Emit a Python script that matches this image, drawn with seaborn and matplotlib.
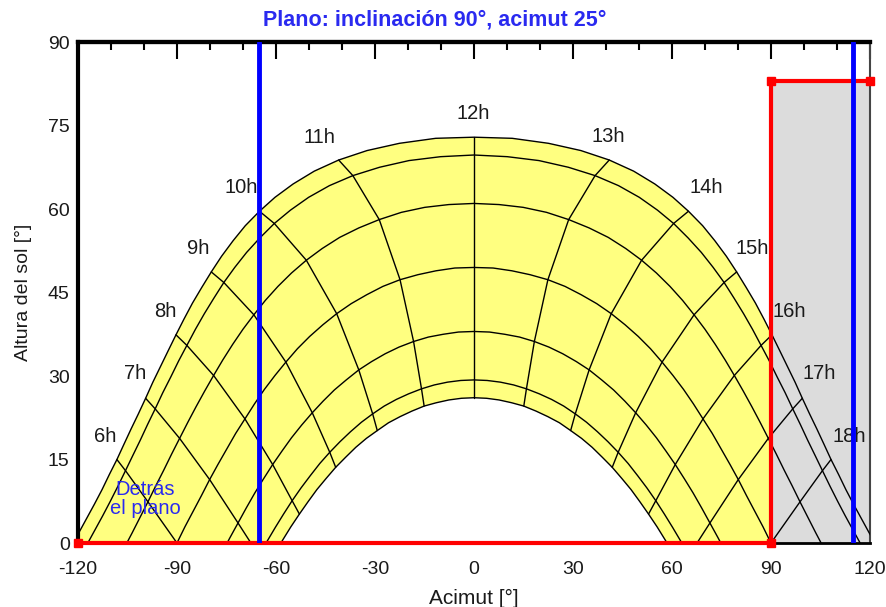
import numpy as np
import pandas as pd
import matplotlib
matplotlib.use('Agg')
import matplotlib.pyplot as plt
from matplotlib.ticker import MultipleLocator
import seaborn as sns

# --- sun path data, read every quarter hour of solar time ---
HOURS = [4.5, 4.75, 5.0, 5.25, 5.5, 5.75, 6.0, 6.25, 6.5, 6.75, 7.0, 7.25, 7.5, 7.75, 8.0, 8.25,
         8.5, 8.75, 9.0, 9.25, 9.5, 9.75, 10.0, 10.25, 10.5, 10.75, 11.0, 11.25, 11.5, 11.75, 12.0,
         12.25, 12.5, 12.75, 13.0, 13.25, 13.5, 13.75, 14.0, 14.25, 14.5, 14.75, 15.0, 15.25, 15.5,
         15.75, 16.0, 16.25, 16.5, 16.75, 17.0, 17.25, 17.5, 17.75, 18.0, 18.25, 18.5, 18.75, 19.0,
         19.25, 19.5]

DATES = ['22 jun', '22 may', '20 abr', '20 mar', '21 feb', '19 ene', '22 dic']

AZ_JUN = [-122.0, -119.6, -117.3, -115.0, -112.7, -110.5, -108.2, -106.1, -103.9, -101.7, -99.5, -97.3,
          -95.0, -92.7, -90.3, -87.9, -85.3, -82.5, -79.6, -76.5, -73.0, -69.3, -65.0, -60.3, -54.8,
          -48.4, -41.0, -32.4, -22.6, -11.6, 0.0, 11.6, 22.6, 32.4, 41.0, 48.4, 54.8, 60.3, 65.0, 69.3,
          73.0, 76.5, 79.6, 82.5, 85.3, 87.9, 90.3, 92.7, 95.0, 97.3, 99.5, 101.7, 103.9, 106.1, 108.2,
          110.5, 112.7, 115.0, 117.3, 119.6, 122.0]
ALT_JUN = [-0.5, 2.0, 4.5, 7.0, 9.6, 12.3, 15.0, 17.7, 20.5, 23.2, 26.0, 28.9, 31.7, 34.5, 37.4, 40.2,
           43.1, 45.9, 48.7, 51.5, 54.3, 57.0, 59.6, 62.1, 64.5, 66.8, 68.8, 70.5, 71.8, 72.7, 72.9,
           72.7, 71.8, 70.5, 68.8, 66.8, 64.5, 62.1, 59.6, 57.0, 54.3, 51.5, 48.7, 45.9, 43.1, 40.2,
           37.4, 34.5, 31.7, 28.9, 26.0, 23.2, 20.5, 17.7, 15.0, 12.3, 9.6, 7.0, 4.5, 2.0, -0.5]

AZ_MAY = [-119.8, -117.3, -114.9, -112.5, -110.2, -107.9, -105.6, -103.4, -101.1, -98.9, -96.6, -94.3,
          -91.9, -89.5, -87.0, -84.4, -81.7, -78.8, -75.8, -72.5, -68.9, -64.9, -60.5, -55.6, -50.1,
          -43.8, -36.7, -28.6, -19.7, -10.1, 0.0, 10.1, 19.7, 28.6, 36.7, 43.8, 50.1, 55.6, 60.5, 64.9,
          68.9, 72.5, 75.8, 78.8, 81.7, 84.4, 87.0, 89.5, 91.9, 94.3, 96.6, 98.9, 101.1, 103.4, 105.6,
          107.9, 110.2, 112.5, 114.9, 117.3, 119.8]
ALT_MAY = [-2.8, -0.3, 2.3, 4.9, 7.5, 10.2, 13.0, 15.7, 18.5, 21.3, 24.1, 27.0, 29.8, 32.7, 35.5, 38.4,
           41.2, 44.0, 46.8, 49.5, 52.2, 54.8, 57.4, 59.8, 62.1, 64.2, 66.0, 67.5, 68.7, 69.4, 69.7,
           69.4, 68.7, 67.5, 66.0, 64.2, 62.1, 59.8, 57.4, 54.8, 52.2, 49.5, 46.8, 44.0, 41.2, 38.4,
           35.5, 32.7, 29.8, 27.0, 24.1, 21.3, 18.5, 15.7, 13.0, 10.2, 7.5, 4.9, 2.3, -0.3, -2.8]

AZ_APR = [-113.6, -111.0, -108.5, -106.0, -103.6, -101.2, -98.8, -96.4, -94.0, -91.6, -89.2, -86.7,
          -84.2, -81.6, -78.9, -76.1, -73.1, -70.0, -66.7, -63.2, -59.4, -55.3, -50.8, -46.0, -40.7,
          -34.9, -28.7, -22.0, -14.9, -7.6, 0.0, 7.6, 14.9, 22.0, 28.7, 34.9, 40.7, 46.0, 50.8, 55.3,
          59.4, 63.2, 66.7, 70.0, 73.1, 76.1, 78.9, 81.6, 84.2, 86.7, 89.2, 91.6, 94.0, 96.4, 98.8,
          101.2, 103.6, 106.0, 108.5, 111.0, 113.6]
ALT_APR = [-9.0, -6.3, -3.6, -0.9, 1.8, 4.6, 7.4, 10.3, 13.1, 16.0, 18.8, 21.7, 24.5, 27.3, 30.1, 32.9,
           35.7, 38.4, 41.0, 43.6, 46.1, 48.5, 50.8, 52.9, 54.9, 56.6, 58.1, 59.4, 60.3, 60.8, 61.0,
           60.8, 60.3, 59.4, 58.1, 56.6, 54.9, 52.9, 50.8, 48.5, 46.1, 43.6, 41.0, 38.4, 35.7, 32.9,
           30.1, 27.3, 24.5, 21.7, 18.8, 16.0, 13.1, 10.3, 7.4, 4.6, 1.8, -0.9, -3.6, -6.3, -9.0]

AZ_MAR = [-105.1, -102.4, -99.9, -97.4, -94.9, -92.4, -90.0, -87.6, -85.1, -82.6, -80.1, -77.6,
          -74.9, -72.2, -69.4, -66.5, -63.5, -60.3, -57.0, -53.5, -49.8, -45.8, -41.6, -37.2, -32.5,
          -27.6, -22.4, -17.0, -11.5, -5.8, 0.0, 5.8, 11.5, 17.0, 22.4, 27.6, 32.5, 37.2, 41.6, 45.8,
          49.8, 53.5, 57.0, 60.3, 63.5, 66.5, 69.4, 72.2, 74.9, 77.6, 80.1, 82.6, 85.1, 87.6, 90.0,
          92.4, 94.9, 97.4, 99.9, 102.4, 105.1]
ALT_MAR = [-16.9, -14.1, -11.4, -8.5, -5.7, -2.9, 0.0, 2.9, 5.7, 8.5, 11.4, 14.1, 16.9, 19.7, 22.3, 25.0,
           27.6, 30.1, 32.5, 34.9, 37.1, 39.2, 41.2, 43.0, 44.6, 46.1, 47.3, 48.2, 48.9, 49.4, 49.5,
           49.4, 48.9, 48.2, 47.3, 46.1, 44.6, 43.0, 41.2, 39.2, 37.1, 34.9, 32.5, 30.1, 27.6, 25.0,
           22.3, 19.7, 16.9, 14.1, 11.4, 8.5, 5.7, 2.9, 0.0, -2.9, -5.7, -8.5, -11.4, -14.1, -16.9]

AZ_FEB = [-95.8, -93.3, -90.8, -88.4, -86.0, -83.6, -81.2, -78.8, -76.4, -74.0, -71.5, -69.0, -66.4,
          -63.8, -61.0, -58.2, -55.3, -52.2, -49.0, -45.7, -42.3, -38.7, -34.9, -31.0, -26.9, -22.7,
          -18.3, -13.8, -9.3, -4.7, 0.0, 4.7, 9.3, 13.8, 18.3, 22.7, 26.9, 31.0, 34.9, 38.7, 42.3, 45.7,
          49.0, 52.2, 55.3, 58.2, 61.0, 63.8, 66.4, 69.0, 71.5, 74.0, 76.4, 78.8, 81.2, 83.6, 86.0, 88.4,
          90.8, 93.3, 95.8]
ALT_FEB = [-24.5, -21.7, -18.8, -16.0, -13.1, -10.3, -7.4, -4.6, -1.8, 0.9, 3.6, 6.3, 9.0, 11.5, 14.1,
           16.5, 18.9, 21.2, 23.4, 25.5, 27.5, 29.3, 31.1, 32.6, 34.0, 35.2, 36.2, 37.0, 37.5, 37.9,
           38.0, 37.9, 37.5, 37.0, 36.2, 35.2, 34.0, 32.6, 31.1, 29.3, 27.5, 25.5, 23.4, 21.2, 18.9,
           16.5, 14.1, 11.5, 9.0, 6.3, 3.6, 0.9, -1.8, -4.6, -7.4, -10.3, -13.1, -16.0, -18.8, -21.7,
           -24.5]

AZ_JAN = [-88.1, -85.7, -83.4, -81.1, -78.9, -76.6, -74.4, -72.1, -69.8, -67.5, -65.1, -62.7, -60.2,
          -57.7, -55.1, -52.4, -49.6, -46.7, -43.7, -40.6, -37.4, -34.1, -30.7, -27.2, -23.5, -19.8,
          -15.9, -12.0, -8.0, -4.0, 0.0, 4.0, 8.0, 12.0, 15.9, 19.8, 23.5, 27.2, 30.7, 34.1, 37.4, 40.6,
          43.7, 46.7, 49.6, 52.4, 55.1, 57.7, 60.2, 62.7, 65.1, 67.5, 69.8, 72.1, 74.4, 76.6, 78.9, 81.1,
          83.4, 85.7, 88.1]
ALT_JAN = [-29.8, -27.0, -24.1, -21.3, -18.5, -15.7, -13.0, -10.2, -7.5, -4.9, -2.3, 0.3, 2.8, 5.2, 7.6,
           9.9, 12.1, 14.3, 16.3, 18.2, 20.0, 21.7, 23.2, 24.6, 25.8, 26.8, 27.7, 28.4, 28.9, 29.2,
           29.3, 29.2, 28.9, 28.4, 27.7, 26.8, 25.8, 24.6, 23.2, 21.7, 20.0, 18.2, 16.3, 14.3, 12.1,
           9.9, 7.6, 5.2, 2.8, 0.3, -2.3, -4.9, -7.5, -10.2, -13.0, -15.7, -18.5, -21.3, -24.1, -27.0,
           -29.8]

AZ_DEC = [-85.0, -82.7, -80.5, -78.3, -76.1, -73.9, -71.8, -69.5, -67.3, -65.0, -62.7, -60.4, -58.0,
          -55.5, -52.9, -50.3, -47.6, -44.8, -41.9, -38.9, -35.8, -32.6, -29.3, -25.9, -22.4, -18.8,
          -15.1, -11.4, -7.6, -3.8, 0.0, 3.8, 7.6, 11.4, 15.1, 18.8, 22.4, 25.9, 29.3, 32.6, 35.8, 38.9,
          41.9, 44.8, 47.6, 50.3, 52.9, 55.5, 58.0, 60.4, 62.7, 65.0, 67.3, 69.5, 71.8, 73.9, 76.1, 78.3,
          80.5, 82.7, 85.0]
ALT_DEC = [-31.7, -28.9, -26.0, -23.2, -20.5, -17.7, -15.0, -12.3, -9.6, -7.0, -4.5, -2.0, 0.5, 2.9,
           5.2, 7.4, 9.6, 11.6, 13.6, 15.4, 17.2, 18.8, 20.2, 21.6, 22.7, 23.7, 24.6, 25.2, 25.7, 26.0,
           26.1, 26.0, 25.7, 25.2, 24.6, 23.7, 22.7, 21.6, 20.2, 18.8, 17.2, 15.4, 13.6, 11.6, 9.6,
           7.4, 5.2, 2.9, 0.5, -2.0, -4.5, -7.0, -9.6, -12.3, -15.0, -17.7, -20.5, -23.2, -26.0, -28.9,
           -31.7]

# hour lines drawn and their labels
HOUR_MARKS = [6, 7, 8, 9, 10, 11, 12, 13, 14, 15, 16, 17, 18]
HOUR_LABELS = ['6h', '7h', '8h', '9h', '10h', '11h', '12h', '13h', '14h', '15h', '16h', '17h', '18h']
HOUR_LABEL_AZ = [-111.8, -102.7, -93.6, -83.5, -70.4, -46.7, -0.2, 40.8, 70.3, 84.4, 95.6, 104.6, 113.7]
HOUR_LABEL_ALT = [19.1, 30.5, 41.5, 52.9, 63.9, 72.9, 77.2, 73.0, 63.9, 52.9, 41.5, 30.5, 19.1]

# far horizon profile and plane edges
HORIZON_AZ = [-120, 90, 90, 120]
HORIZON_ALT = [0, 0, 83, 83]
PLANE_EDGE_AZ = [-65, 115]

AZ = [AZ_JUN, AZ_MAY, AZ_APR, AZ_MAR, AZ_FEB, AZ_JAN, AZ_DEC]
ALT = [ALT_JUN, ALT_MAY, ALT_APR, ALT_MAR, ALT_FEB, ALT_JAN, ALT_DEC]
for a, e in zip(AZ, ALT):
    assert len(a) == len(HOURS) and len(e) == len(HOURS)

rows = []
for name, az_list, alt_list in zip(DATES, AZ, ALT):
    for h, a, e in zip(HOURS, az_list, alt_list):
        rows.append({'date': name, 'hour': h, 'az': a, 'alt': e})
df = pd.DataFrame(rows)
df_hours = df[df['hour'].isin(HOUR_MARKS)]

sns.set_theme(style='white')
plt.rcParams['font.family'] = ['Liberation Sans', 'DejaVu Sans']
plt.rcParams['axes.unicode_minus'] = False

TXT = '#1a1a1a'
BLUE_TXT = '#2a2af0'

fig = plt.figure(figsize=(8.86, 6.07), dpi=100)
ax = fig.add_axes([0.088, 0.1054, 0.8939, 0.8254])

# yellow area between the summer and winter paths
poly_az = np.concatenate([AZ_JUN, AZ_DEC[::-1]])
poly_alt = np.concatenate([ALT_JUN, ALT_DEC[::-1]])
ax.fill(poly_az, poly_alt, color='#ffff80', lw=0, zorder=1)

# grey shading under the horizon profile
ax.fill_between(HORIZON_AZ, 0, HORIZON_ALT, color='#dcdcdc', lw=0, zorder=1.5)

# sun paths and hour lines
sns.lineplot(data=df, x='az', y='alt', units='date', estimator=None, sort=False,
             color='black', lw=1.0, ax=ax, zorder=3)
sns.lineplot(data=df_hours, x='az', y='alt', units='hour', estimator=None, sort=False,
             color='black', lw=1.0, ax=ax, zorder=3)

for lab, a, e in zip(HOUR_LABELS, HOUR_LABEL_AZ, HOUR_LABEL_ALT):
    ax.text(a, e, lab, ha='center', va='center', fontsize=14.5, color=TXT, zorder=3.5)

ax.text(-99.7, 7.9, 'Detrás\nel plano', ha='center', va='center', fontsize=14.5,
        color=BLUE_TXT, linespacing=0.95, zorder=3.5)

# horizon line
ax.plot(HORIZON_AZ, HORIZON_ALT, color='#ff0000', lw=3, marker='s', ms=6,
        zorder=4, clip_on=False)

# plane edges
for a in PLANE_EDGE_AZ:
    ax.axvline(a, color='#0000ff', lw=3.5, zorder=5)

ax.set_xlim(-120, 120)
ax.set_ylim(0, 90)

ax.xaxis.set_major_locator(MultipleLocator(30))
ax.xaxis.set_minor_locator(MultipleLocator(10))
ax.yaxis.set_major_locator(MultipleLocator(15))
ax.yaxis.set_minor_locator(MultipleLocator(7.5))

ax.tick_params(axis='x', which='major', direction='in', length=8.5, width=1.5,
               color='black', labelsize=14, pad=13, labelcolor=TXT)
ax.tick_params(axis='x', which='minor', direction='in', length=3, width=1.5, color='black')
ax.tick_params(axis='y', which='major', direction='in', length=9.5, width=1.5,
               color='black', labelsize=14, pad=6, labelcolor=TXT)
ax.tick_params(axis='y', which='minor', direction='in', length=3.5, width=1.5, color='black')

# top axis carries longer ticks, no labels
sec = ax.secondary_xaxis('top')
sec.xaxis.set_major_locator(MultipleLocator(30))
sec.xaxis.set_minor_locator(MultipleLocator(10))
sec.tick_params(axis='x', which='major', direction='in', length=12, width=1.5,
                color='black', labeltop=False)
sec.tick_params(axis='x', which='minor', direction='in', length=6, width=1.5, color='black')
sec.spines['top'].set_linewidth(3)
sec.spines['top'].set_color('black')

ax.spines['left'].set_linewidth(3)
ax.spines['left'].set_color('black')
ax.spines['top'].set_linewidth(3)
ax.spines['top'].set_color('black')
ax.spines['bottom'].set_linewidth(2)
ax.spines['bottom'].set_color('black')
ax.spines['right'].set_linewidth(1.5)
ax.spines['right'].set_color('#444444')

ax.set_xlabel('Acimut [°]', fontsize=15, color=TXT, labelpad=8)
ax.set_ylabel('Altura del sol [°]', fontsize=14, color=TXT, labelpad=11)
fig.text(0.491, 0.967, 'Plano: inclinación 90°, acimut 25°', ha='center', va='center',
         fontsize=15.5, fontweight='bold', color=BLUE_TXT)

fig.savefig('out.png', dpi=100)
